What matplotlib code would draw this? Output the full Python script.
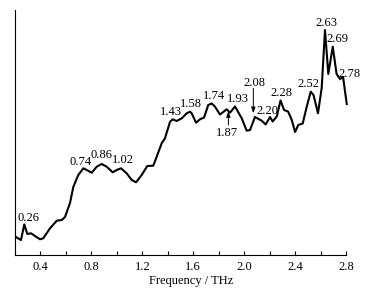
import matplotlib
matplotlib.use("Agg")
import matplotlib.pyplot as plt
from matplotlib.ticker import MultipleLocator

plt.rcParams['font.family'] = ['Liberation Serif', 'DejaVu Serif']

freq = [0.208, 0.220, 0.247, 0.273, 0.297, 0.326, 0.357, 0.396, 0.422, 0.475,
        0.528, 0.567, 0.593, 0.632, 0.658, 0.697, 0.737, 0.763, 0.803, 0.842,
        0.881, 0.920, 0.967, 0.999, 1.033, 1.077, 1.117, 1.151, 1.195, 1.239,
        1.286, 1.313, 1.352, 1.378, 1.418, 1.439, 1.470, 1.510, 1.549, 1.575,
        1.588, 1.622, 1.653, 1.685, 1.718, 1.745, 1.771, 1.810, 1.863, 1.889,
        1.928, 1.981, 2.020, 2.046, 2.085, 2.138, 2.169, 2.203, 2.224, 2.256,
        2.286, 2.313, 2.345, 2.374, 2.400, 2.425, 2.460, 2.491, 2.523, 2.545,
        2.580, 2.609, 2.635, 2.661, 2.696, 2.726, 2.753, 2.777, 2.806]
intensity = [18, 17, 15, 30.5, 21, 21.7, 19, 15.7, 16.7, 26.7,
             34.3, 35, 38, 52, 68, 80, 86.7, 85, 82.3, 88.3,
             91, 88.3, 82.7, 85, 86.7, 81.7, 75, 72.7, 80, 89,
             89.3, 98.3, 111.7, 116.7, 133.3, 135.7, 134, 136.7, 141.7, 143.3,
             141.7, 132.3, 135.7, 137.5, 150, 151.5, 148.3, 140.5, 145.7, 142.3,
             148.5, 136.7, 124.3, 125, 138, 134.3, 130.5, 138, 133.5, 138.5,
             154.5, 145, 143.5, 135, 123, 130, 131.5, 148, 163.3, 160,
             141.7, 167, 225, 181, 208.3, 181, 176, 178, 151]

# peak labels: text, x, y (label centre)
labels = ["0.26", "0.74", "0.86", "1.02", "1.43", "1.58", "1.74", "1.93",
          "2.20", "2.28", "2.52", "2.63", "2.69", "2.78"]
label_x = [0.304, 0.716, 0.881, 1.051, 1.423, 1.580, 1.763, 1.948,
           2.180, 2.295, 2.508, 2.649, 2.732, 2.828]
label_y = [37, 93.3, 100, 95, 142.7, 151, 159, 155.7,
           144.5, 162.5, 171.3, 231.7, 215.7, 181.3]

# arrow-annotated labels: text, text position, arrow tip
arrow_labels = ["1.87", "2.08"]
arrow_text_x = [1.869, 2.077]
arrow_text_y = [121.7, 172.5]
arrow_tail_y = [130, 166.7]
arrow_tip_x = [1.876, 2.072]
arrow_tip_y = [144, 141.7]

fig = plt.figure(figsize=(3.73, 2.91), dpi=100)
ax = fig.add_axes([15/373, 36/291, 331/373, 245/291])

ax.plot(freq, intensity, color='black', lw=1.5, clip_on=False, solid_joinstyle='round')

fs = 9
for t, x, y in zip(labels, label_x, label_y):
    ax.text(x, y, t, ha='center', va='center', fontsize=fs)

for t, tx, ty, tly, px, py in zip(arrow_labels, arrow_text_x, arrow_text_y,
                                   arrow_tail_y, arrow_tip_x, arrow_tip_y):
    ax.text(tx, ty, t, ha='center', va='center', fontsize=fs)
    ax.annotate('', xy=(px, py), xytext=(px, tly),
                arrowprops=dict(arrowstyle='-|>,head_length=0.35,head_width=0.12',
                                color='black', lw=0.7, shrinkA=0, shrinkB=0))

ax.set_xlim(0.2, 2.8)
ax.set_ylim(0, 245)
ax.xaxis.set_minor_locator(MultipleLocator(0.2))
ax.set_xticks([0.4, 0.8, 1.2, 1.6, 2.0, 2.4, 2.8])
ax.set_xticklabels(["0.4", "0.8", "1.2", "1.6", "2.0", "2.4", "2.8"], fontsize=fs)
ax.set_yticks([])
ax.tick_params(axis='x', which='both', direction='in', length=3, width=0.8, pad=4)
for s in ['top', 'right']:
    ax.spines[s].set_visible(False)
for s in ['left', 'bottom']:
    ax.spines[s].set_linewidth(0.8)

ax.set_xlabel("Frequency / THz", fontsize=fs)
ax.xaxis.set_label_coords(0.532, -0.082)

fig.savefig("out.png", dpi=100, facecolor='white')
